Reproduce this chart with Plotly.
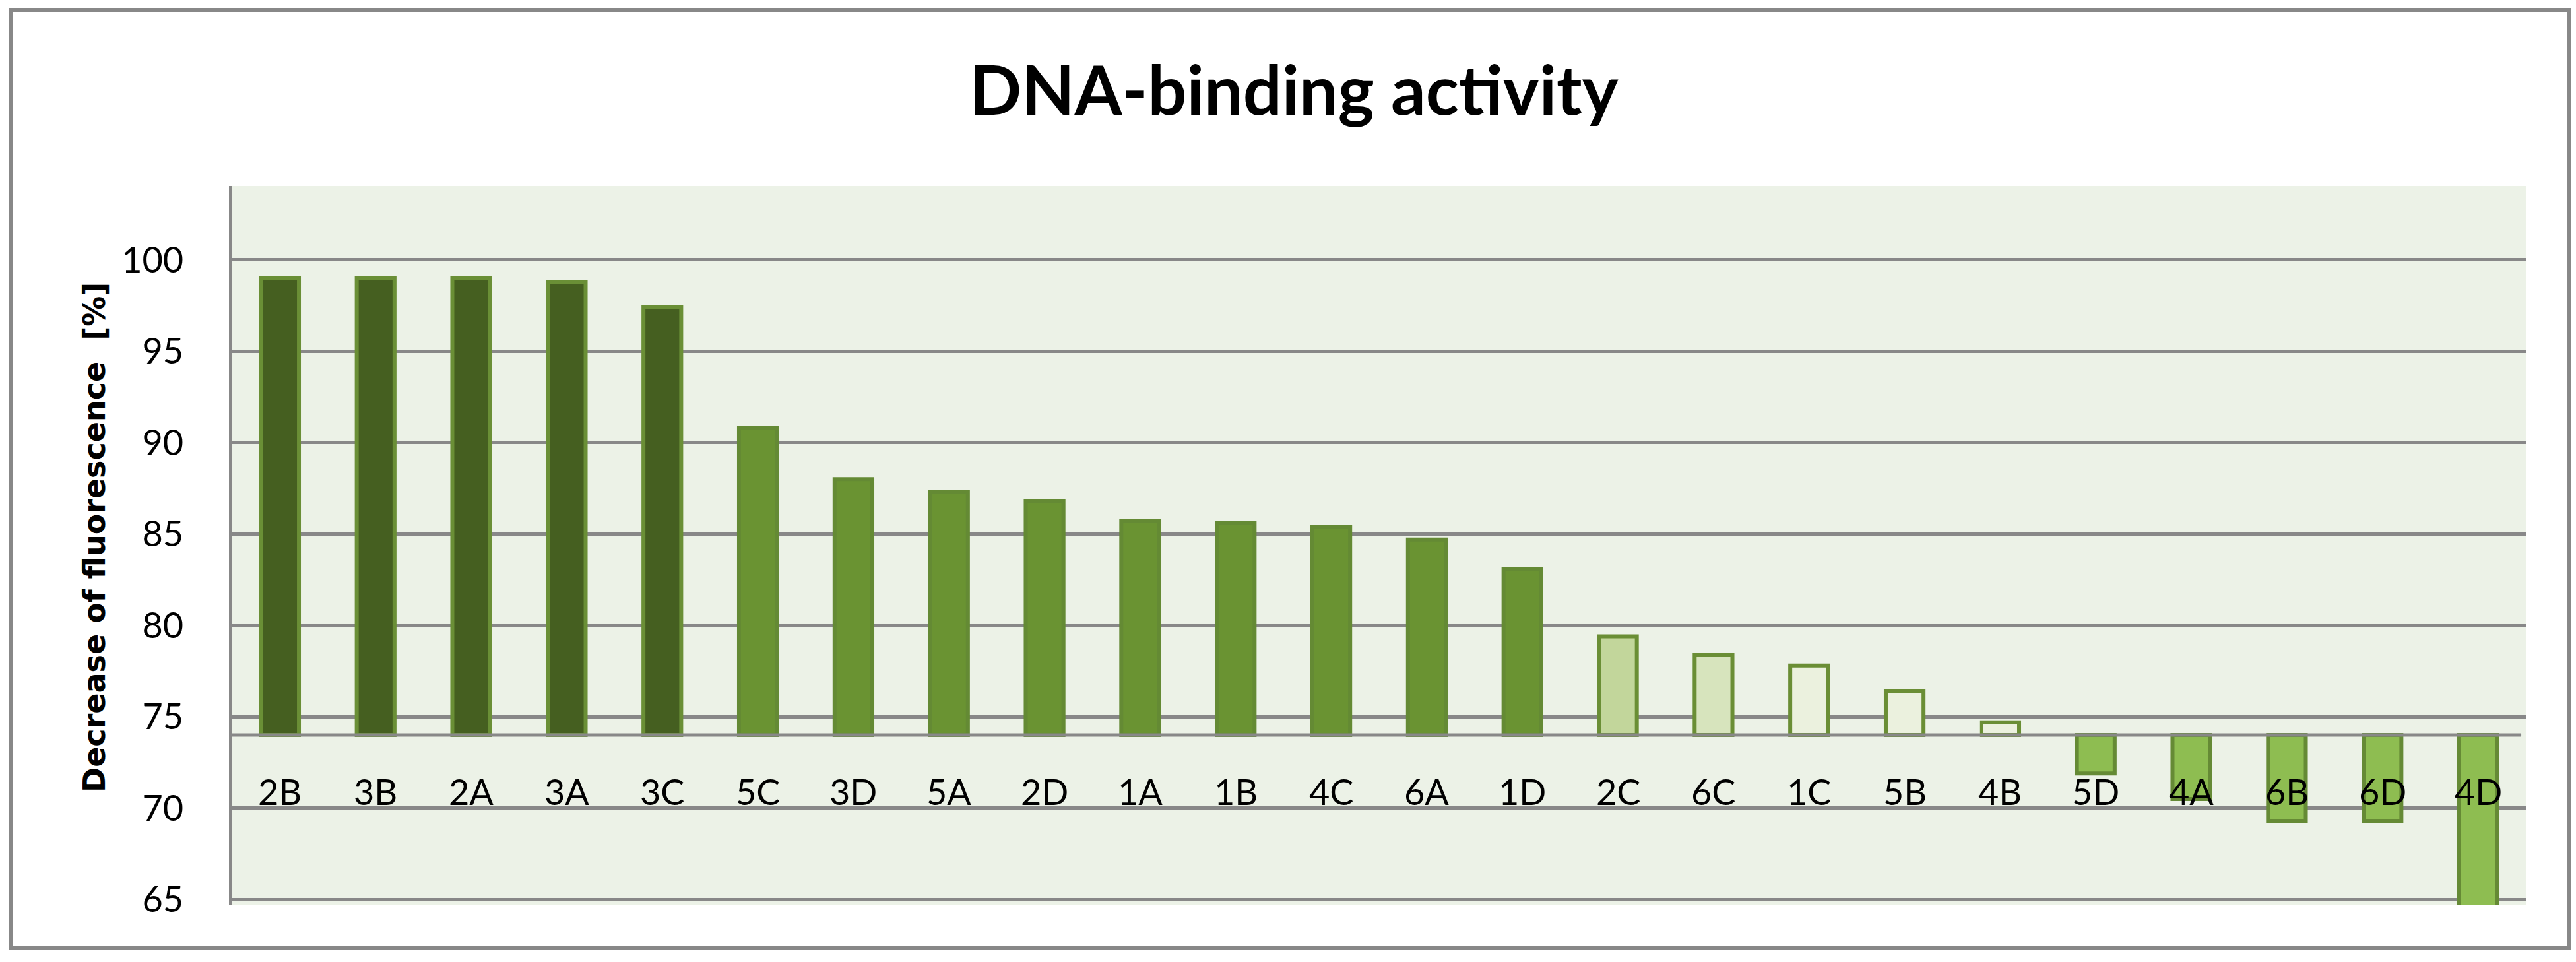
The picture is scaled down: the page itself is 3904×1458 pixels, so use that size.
import plotly.graph_objects as go

categories = ["2B", "3B", "2A", "3A", "3C", "5C", "3D", "5A", "2D", "1A", "1B", "4C",
              "6A", "1D", "2C", "6C", "1C", "5B", "4B", "5D", "4A", "6B", "6D", "4D"]
values = [99.0, 99.0, 99.0, 98.8, 97.4, 90.8, 88.0, 87.3, 86.8, 85.7, 85.6, 85.4,
          84.7, 83.1, 79.4, 78.4, 77.8, 76.4, 74.7, 71.9, 70.5, 69.3, 69.3, 64.6]
baseline = 74
y_ticks = [65, 70, 75, 80, 85, 90, 95, 100]

# styles
fill_colors = (["#455F20"] * 5 + ["#6A9332"] * 9 + ["#C2D69B", "#D7E4BD"] +
               ["#EBF1DE"] * 3 + ["#8EBD51"] * 5)
line_colors = (["#6A8F36"] * 5 + ["#648A34"] * 9 + ["#6A8E35"] * 5 + ["#658A35"] * 5)

grid_col = "#888888"
bg_col = "#ECF2E7"

fig = go.Figure()
fig.add_trace(go.Bar(
    x=categories,
    y=[v - baseline for v in values],
    base=baseline,
    width=0.395,
    marker=dict(color=fill_colors, line=dict(color=line_colors, width=6)),
    hovertext=[f"{c}: {v}" for c, v in zip(categories, values)],
    hoverinfo="text",
))

# category labels inside plot
for c in categories:
    fig.add_annotation(x=c, y=70.9, text=c, showarrow=False, yanchor="middle",
                       font=dict(family="Lato", size=54, color="black"))

# baseline line at 74 (axis crossing), drawn above bars
fig.add_shape(type="line", xref="x domain", yref="y", x0=0, x1=0.998, y0=baseline, y1=baseline,
              line=dict(color=grid_col, width=5), layer="above")

# outer chart border
L, R, T, B = 352, 76, 282, 86
W, H = 3904, 1458
pw, ph = W - L - R, H - T - B
def px(x):
    return (x - L) / pw
def py(y):
    return (H - B - y) / ph
fig.add_shape(type="rect", xref="paper", yref="paper",
              x0=px(17), x1=px(3893), y0=py(1437), y1=py(15),
              line=dict(color=grid_col, width=6), layer="below")

# y axis title
fig.add_annotation(xref="paper", yref="paper", x=px(143), y=0.511,
                   text="Decrease of fluorescence &nbsp;[%]", textangle=-90,
                   showarrow=False, xanchor="center", yanchor="middle",
                   font=dict(family="DejaVu Sans", size=46, color="black", weight="bold"))

fig.update_layout(
    width=W, height=H,
    margin=dict(l=L, r=R, t=T, b=B, pad=0),
    paper_bgcolor="white",
    plot_bgcolor=bg_col,
    showlegend=False,
    bargap=0.6,
    title=dict(text="<b>DNA-binding activity</b>", x=1961 / W, xref="container",
               y=1 - 138 / H, yref="container", xanchor="center", yanchor="middle",
               font=dict(family="Lato", size=104, color="black")),
    xaxis=dict(range=[-0.5, len(categories) - 0.5], showticklabels=False, showgrid=False,
               zeroline=False, showline=False, ticks=""),
    yaxis=dict(range=[64.69, 104.04], tickvals=y_ticks, showgrid=True, gridcolor=grid_col,
               gridwidth=5, zeroline=False, showline=True, linecolor=grid_col, linewidth=5,
               ticks="", ticklabelstandoff=58,
               tickfont=dict(family="Lato", size=54, color="black")),
)

fig.write_html("out.html", post_script="document.body.style.margin='0';",
               config={"displayModeBar": False})
